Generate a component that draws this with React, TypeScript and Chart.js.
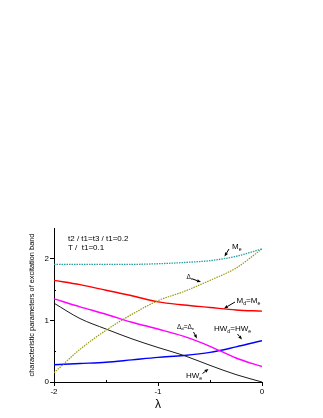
import React, { useEffect, useRef } from 'react';
import { Chart, registerables } from 'chart.js';
Chart.register(...registerables);

const lambda = [-2, -1.75, -1.5, -1.25, -1, -0.75, -0.5, -0.25, 0];
const Me = [1.91, 1.91, 1.91, 1.91, 1.92, 1.94, 1.97, 2.04, 2.16];
const DeltaE = [0.15, 0.53, 0.84, 1.1, 1.32, 1.47, 1.65, 1.85, 2.16];
const MdMe = [1.65, 1.58, 1.49, 1.4, 1.3, 1.25, 1.21, 1.17, 1.15];
const DdDe = [1.35, 1.22, 1.1, 0.97, 0.86, 0.74, 0.58, 0.39, 0.25];
const HWdHWe = [0.28, 0.3, 0.32, 0.36, 0.4, 0.43, 0.48, 0.57, 0.67];
const HWe = [1.28, 1.03, 0.86, 0.7, 0.56, 0.43, 0.27, 0.12, 0.0];

const xMajor = [-2, -1, 0];
const xMinor = [-1.5, -0.5];
const yMajor = [0, 1, 2];
const yMinor = [0.5, 1.5];

const paramLines = ['t2 / t1=t3 / t1=0.2', 'T /  t1=0.1'];
const yTitle = 'characteristic parameters of excitation band';
const xTitle = 'λ';

type Part = { t: string; sub?: boolean };
const labels: { parts: Part[]; x: number; y: number; size: number; from: [number, number]; to: [number, number] }[] = [
  { parts: [{ t: 'M' }, { t: 'e', sub: true }], x: 232, y: 249, size: 8, from: [229, 249], to: [224.5, 256.5] },
  { parts: [{ t: 'Δ' }, { t: 'e', sub: true }], x: 186.5, y: 279, size: 6.5, from: [192.5, 279], to: [201, 282] },
  { parts: [{ t: 'M' }, { t: 'd', sub: true }, { t: '=M' }, { t: 'e', sub: true }], x: 236.5, y: 303, size: 8, from: [235, 302], to: [224, 308.5] },
  { parts: [{ t: 'Δ' }, { t: 'd', sub: true }, { t: '=Δ' }, { t: 'e', sub: true }], x: 177, y: 329, size: 6.5, from: [193.5, 332], to: [197, 338.5] },
  { parts: [{ t: 'HW' }, { t: 'd', sub: true }, { t: '=HW' }, { t: 'e', sub: true }], x: 214, y: 331, size: 8, from: [237.5, 334], to: [242, 339.5] },
  { parts: [{ t: 'HW' }, { t: 'e', sub: true }], x: 186, y: 378, size: 8, from: [202.5, 373.5], to: [208.5, 369] },
];

const FONT = '"Liberation Sans", Arial, sans-serif';

function pts(ys: number[]) {
  return lambda.map((x, i) => ({ x, y: ys[i] }));
}

const annot = {
  id: 'annot',
  afterDraw(chart: any) {
    const ctx = chart.ctx as CanvasRenderingContext2D;
    const xs = chart.scales.x;
    const ys = chart.scales.y;
    const area = chart.chartArea;
    ctx.save();
    ctx.strokeStyle = '#000';
    ctx.lineWidth = 1;
    for (const v of xMinor) {
      const px = Math.round(xs.getPixelForValue(v)) + 0.5;
      ctx.beginPath();
      ctx.moveTo(px, area.bottom);
      ctx.lineTo(px, area.bottom - 2);
      ctx.stroke();
    }
    for (const v of yMinor) {
      const py = Math.round(ys.getPixelForValue(v)) + 0.5;
      ctx.beginPath();
      ctx.moveTo(area.left, py);
      ctx.lineTo(area.left + 2, py);
      ctx.stroke();
    }
    ctx.fillStyle = '#000';
    ctx.textBaseline = 'middle';
    ctx.font = `8px ${FONT}`;
    ctx.fillText(paramLines[0], 68, 239);
    ctx.fillText(paramLines[1], 68, 248);
    ctx.textBaseline = 'alphabetic';
    for (const l of labels) {
      let cx = l.x;
      for (const p of l.parts) {
        const s = p.sub ? l.size * 0.65 : l.size;
        ctx.font = `${s}px ${FONT}`;
        ctx.fillText(p.t, cx, p.sub ? l.y + l.size * 0.2 : l.y);
        cx += ctx.measureText(p.t).width;
      }
      const [x1, y1] = l.from;
      const [x2, y2] = l.to;
      const ang = Math.atan2(y2 - y1, x2 - x1);
      const hl = 4, hw = 1.6;
      const bx = x2 - hl * Math.cos(ang);
      const by = y2 - hl * Math.sin(ang);
      ctx.beginPath();
      ctx.moveTo(x1, y1);
      ctx.lineTo(bx, by);
      ctx.stroke();
      ctx.beginPath();
      ctx.moveTo(x2, y2);
      ctx.lineTo(bx + hw * Math.sin(ang), by - hw * Math.cos(ang));
      ctx.lineTo(bx - hw * Math.sin(ang), by + hw * Math.cos(ang));
      ctx.closePath();
      ctx.fill();
    }
    ctx.restore();
  },
};

export default function App() {
  const ref = useRef<HTMLCanvasElement>(null);
  useEffect(() => {
    if (!ref.current) return;
    const line = (data: number[], color: string, width: number, dash: number[]) => ({
      data: pts(data),
      borderColor: color,
      backgroundColor: color,
      borderWidth: width,
      borderDash: dash,
      pointRadius: 0,
      fill: false,
      cubicInterpolationMode: 'monotone' as const,
    });
    const chart = new Chart(ref.current, {
      type: 'line',
      data: {
        datasets: [
          line(Me, '#2a9f9f', 1.3, [1.5, 1]),
          line(DeltaE, '#9a9a10', 1.2, [1.5, 1]),
          line(MdMe, '#ff0000', 1.4, []),
          line(DdDe, '#ff00ff', 1.4, []),
          line(HWdHWe, '#0000ff', 1.4, []),
          line(HWe, '#000000', 0.9, []),
        ],
      },
      options: {
        animation: false,
        responsive: false,
        maintainAspectRatio: false,
        events: [],
        layout: { padding: { left: 0, top: 228, right: 61, bottom: 0 } },
        plugins: { legend: { display: false }, tooltip: { enabled: false } },
        scales: {
          x: {
            type: 'linear',
            min: -2,
            max: 0,
            afterBuildTicks: (axis: any) => {
              axis.ticks = xMajor.map((v) => ({ value: v }));
            },
            afterFit: (axis: any) => {
              axis.height = 36;
            },
            grid: { drawOnChartArea: false, tickLength: 4, tickColor: '#000' },
            border: { color: '#000', width: 1 },
            ticks: { color: '#000', font: { size: 8, family: FONT }, padding: 1, maxRotation: 0, callback: (v: any) => String(v) },
            title: { display: true, text: xTitle, color: '#000', font: { size: 12, family: FONT }, padding: { top: 0, bottom: 6 } },
          },
          y: {
            type: 'linear',
            min: 0,
            max: 2.5,
            afterBuildTicks: (axis: any) => {
              axis.ticks = yMajor.map((v) => ({ value: v }));
            },
            afterFit: (axis: any) => {
              axis.width = 54;
            },
            grid: { drawOnChartArea: false, tickLength: 4, tickColor: '#000' },
            border: { color: '#000', width: 1 },
            ticks: { color: '#000', font: { size: 8, family: FONT }, padding: 1, callback: (v: any) => String(v) },
            title: { display: true, text: yTitle, color: '#000', font: { size: 7.4, family: FONT }, padding: { top: 28, bottom: 0 } },
          },
        },
      },
      plugins: [annot],
    });
    return () => chart.destroy();
  }, []);
  return (
    <div style={{ position: 'fixed', left: 0, top: 0, width: 323, height: 418, background: '#fff' }}>
      <canvas ref={ref} width={323} height={418} style={{ width: 323, height: 418 }} />
    </div>
  );
}
